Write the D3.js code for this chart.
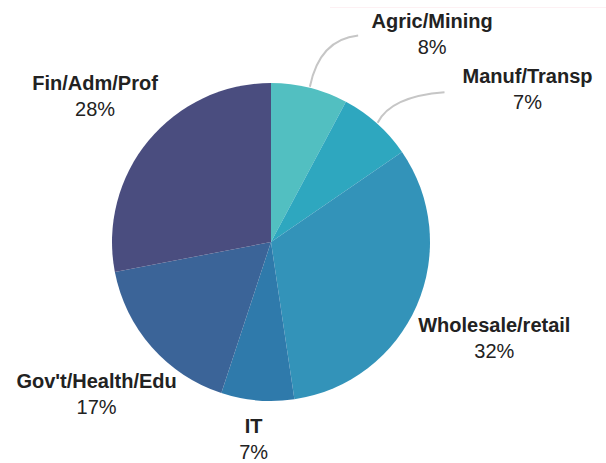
<!DOCTYPE html>
<html>
<head>
<meta charset="utf-8">
<script src="https://cdn.jsdelivr.net/npm/d3@7"></script>
<style>
  html, body { margin: 0; padding: 0; background: #fff; }
  svg text { font-family: "Liberation Sans", Arial, sans-serif; fill: #222; }
</style>
</head>
<body>
<div id="chart"></div>
<script>
// Sectors, clockwise from 12 o'clock
const sectors = ['Agric/Mining', 'Manuf/Transp', 'Wholesale/retail', 'IT', "Gov't/Health/Edu", 'Fin/Adm/Prof'];
const shares = [7.8, 7.6, 32.2, 7.4, 16.9, 28.0];
const shareLabels = ['8%', '7%', '32%', '7%', '17%', '28%'];
const colors = ['#52bfc1', '#2ea7bf', '#3393b9', '#2f7aab', '#3b6498', '#4a4d7f'];

// label placement: [angle offset (deg) from slice middle, radius]
const labelPolar = [[24.6, 258], [18.6, 295], [1.3, 246], [0, 205], [-1, 236], [-1.3, 224]];
const hasLeader = [true, true, false, false, false, false];

const width = 606, height = 463;
const cx = 271, cy = 242, radius = 159;

const svg = d3.select('#chart').append('svg')
    .attr('width', width)
    .attr('height', height);

// faint line along the top right
svg.append('line')
    .attr('x1', 330).attr('x2', width)
    .attr('y1', 7.5).attr('y2', 7.5)
    .attr('stroke', '#fdf0f3')
    .attr('stroke-width', 1);

const g = svg.append('g').attr('transform', `translate(${cx},${cy})`);

const pie = d3.pie().sort(null).value(d => d);
const arcs = pie(shares);

const arc = d3.arc().innerRadius(0).outerRadius(radius);

g.selectAll('path.slice')
    .data(arcs)
    .join('path')
    .attr('class', 'slice')
    .attr('d', arc)
    .attr('fill', (d, i) => colors[i]);

const polar = (a, r) => [r * Math.sin(a), -r * Math.cos(a)];
const mid = d => (d.startAngle + d.endAngle) / 2;

// label anchors
const anchors = arcs.map((d, i) => {
    const a = mid(d) + labelPolar[i][0] * Math.PI / 180;
    return polar(a, labelPolar[i][1]);
});

// curved leader lines for the two narrow top slices
arcs.forEach((d, i) => {
    if (!hasLeader[i]) return;
    const [x0, y0] = polar(mid(d), radius + 1);
    const [ax, ay] = anchors[i];
    const x1 = ax - (i === 0 ? 74 : 83);
    const y1 = ay - (i === 0 ? 5 : 4);
    const p = d3.path();
    p.moveTo(x0, y0);
    p.quadraticCurveTo(x0 + (x1 - x0) * 0.2, y1 + 4, x1, y1);
    g.append('path')
        .attr('d', p.toString())
        .attr('fill', 'none')
        .attr('stroke', '#c6c6c6')
        .attr('stroke-width', 2);
});

const labels = g.selectAll('g.label')
    .data(arcs)
    .join('g')
    .attr('class', 'label')
    .attr('transform', (d, i) => `translate(${anchors[i][0]},${anchors[i][1]})`);

labels.append('text')
    .attr('text-anchor', 'middle')
    .attr('y', -13)
    .attr('font-size', 20)
    .attr('font-weight', 'bold')
    .text((d, i) => sectors[i]);

labels.append('text')
    .attr('text-anchor', 'middle')
    .attr('y', 13)
    .attr('font-size', 20)
    .text((d, i) => shareLabels[i]);
</script>
</body>
</html>
